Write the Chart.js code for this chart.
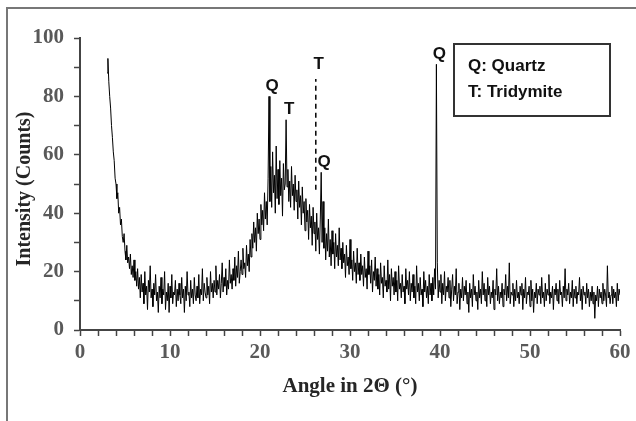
<!DOCTYPE html>
<html>
<head>
<meta charset="utf-8">
<script src="https://cdn.jsdelivr.net/npm/chart.js@4.4.0/dist/chart.umd.min.js"></script>
<style>
html, body { margin: 0; padding: 0; background: #fff; }
#wrap { width: 636px; height: 421px; }
</style>
</head>
<body>
<div id="wrap"><canvas id="xrdChart"></canvas></div>
<script>
// XRD scan: 3.0° to 60.0° in 0.1° steps, one row = 2°
var angleStart = 3.0;
var angleStep = 0.1;
var intensity = [
  88, 93, 85, 80, 76, 70, 66, 61, 58, 52, 50, 45, 47, 40, 42, 36, 38, 32, 30, 33,
  27, 24, 29, 23, 25, 21, 26, 19, 22, 18, 24, 17, 20, 15, 21, 14, 18, 11, 19, 13,
  16, 9, 20, 12, 15, 7, 17, 13, 22, 11, 14, 8, 16, 12, 19, 10, 13, 6, 15, 11,
  18, 9, 14, 12, 20, 7, 13, 10, 16, 6, 15, 11, 19, 9, 13, 12, 17, 8, 14, 10,
  16, 12, 9, 18, 11, 14, 6, 15, 10, 20, 12, 13, 8, 17, 11, 14, 9, 18, 12, 10,
  15, 11, 19, 9, 14, 12, 21, 10, 16, 13, 11, 18, 12, 15, 9, 20, 13, 16, 11, 17,
  13, 22, 12, 17, 14, 19, 11, 16, 23, 13, 18, 15, 21, 12, 17, 14, 24, 16, 19, 14,
  21, 17, 25, 15, 22, 18, 27, 16, 20, 24, 19, 28, 21, 23, 18, 29, 22, 26, 20, 31,
  25, 33, 28, 37, 30, 35, 27, 40, 33, 38, 31, 43, 36, 41, 34, 47, 38, 44, 36, 52,
  80, 44, 56, 42, 61, 47, 53, 40, 63, 45, 55, 43, 58, 46, 52, 39, 57, 48, 50, 72,
  49, 55, 44, 51, 42, 56, 46, 50, 41, 53, 44, 48, 38, 51, 42, 46, 36, 49, 40, 44,
  34, 45, 37, 41, 31, 43, 35, 39, 29, 42, 33, 37, 27, 40, 31, 35, 26, 38, 54, 30,
  44, 28, 35, 24, 33, 27, 38, 25, 31, 22, 34, 26, 30, 21, 33, 25, 29, 22, 35, 24,
  28, 21, 30, 23, 26, 18, 29, 22, 25, 19, 31, 21, 24, 17, 27, 20, 23, 16, 28, 19,
  23, 17, 26, 19, 22, 15, 25, 18, 21, 14, 27, 19, 22, 16, 24, 13, 20, 17, 25, 15,
  21, 14, 19, 12, 23, 16, 18, 11, 22, 15, 17, 13, 24, 14, 19, 10, 21, 15, 18, 12,
  20, 13, 17, 10, 22, 14, 16, 11, 19, 13, 15, 9, 21, 14, 17, 12, 20, 10, 16, 13,
  19, 11, 15, 9, 22, 13, 16, 10, 18, 12, 14, 8, 20, 13, 17, 11, 15, 9, 19, 12,
  16, 10, 18, 12, 21, 14, 91, 23, 11, 17, 13, 19, 9, 16, 12, 20, 10, 15, 13, 18,
  11, 17, 8, 14, 19, 10, 15, 12, 21, 9, 13, 16, 7, 14, 11, 18, 10, 15, 12, 17,
  9, 13, 6, 16, 11, 14, 8, 19, 12, 15, 10, 13, 7, 17, 11, 14, 9, 20, 12, 16,
  10, 14, 8, 18, 12, 15, 9, 13, 11, 17, 7, 14, 12, 21, 10, 15, 9, 13, 11, 16,
  8, 14, 12, 19, 10, 15, 11, 23, 9, 13, 12, 16, 8, 14, 10, 17, 11, 13, 9, 15,
  12, 16, 7, 14, 11, 18, 9, 13, 12, 15, 8, 17, 10, 14, 6, 13, 11, 16, 9, 14,
  12, 15, 9, 18, 11, 13, 8, 16, 10, 14, 12, 19, 9, 13, 11, 15, 7, 14, 12, 16,
  10, 14, 9, 17, 12, 13, 8, 15, 11, 21, 10, 14, 12, 16, 9, 13, 11, 17, 8, 14,
  11, 15, 9, 13, 12, 18, 10, 14, 7, 15, 12, 13, 9, 16, 11, 14, 8, 13, 10, 15,
  9, 13, 4, 12, 10, 15, 8, 14, 11, 13, 9, 16, 10, 14, 12, 8, 22, 11, 13, 9,
  12, 15, 9, 14, 11, 13, 8, 16, 10, 14, 12
];

// peak markers
var peakAngles = [21.0, 22.9, 26.2, 26.8, 39.6];
var peakTops = [80, 72, 86, 54, 91];
var peakNames = ['Q', 'T', 'T', 'Q', 'Q'];
var dashedPeak = [{ x: 26.2, y: 48 }, { x: 26.2, y: 86 }];

var legendLines = ['Q: Quartz', 'T: Tridymite'];

var scanData = intensity.map(function (v, i) {
  return { x: +(angleStart + i * angleStep).toFixed(1), y: v };
});

var tickFont = { family: '"Liberation Serif", "Times New Roman", serif', size: 21, weight: 'bold' };

var decorPlugin = {
  id: 'decor',
  afterDraw: function (chart) {
    var c = chart.ctx;
    var xs = chart.scales.x, ys = chart.scales.y;
    c.save();
    // outer frame (only top and left visible)
    c.strokeStyle = '#777';
    c.lineWidth = 2;
    c.beginPath();
    c.moveTo(7, 421);
    c.lineTo(7, 8);
    c.lineTo(636, 8);
    c.stroke();

    // axis titles
    c.fillStyle = '#262626';
    c.font = 'bold 21px "Liberation Serif", serif';
    c.textAlign = 'center';
    c.textBaseline = 'middle';
    c.fillText('Angle in 2\u0398 (\u00b0)', (chart.chartArea.left + chart.chartArea.right) / 2, 387);
    c.save();
    c.translate(25, 189);
    c.rotate(-Math.PI / 2);
    c.font = 'bold 20px "Liberation Serif", serif';
    c.fillText('Intensity (Counts)', 0, 0);
    c.restore();

    // peak labels
    c.fillStyle = '#111';
    c.font = 'bold 17px "Liberation Sans", Arial, sans-serif';
    peakAngles.forEach(function (a, i) {
      var px = xs.getPixelForValue(a);
      var py = ys.getPixelForValue(peakTops[i]);
      var dy = i === 2 ? 15 : 10;
      c.fillText(peakNames[i], px + 3, py - dy);
    });

    // legend box
    c.strokeStyle = '#333';
    c.lineWidth = 2;
    c.strokeRect(454, 44, 156, 72);
    c.textAlign = 'left';
    c.fillStyle = '#111';
    legendLines.forEach(function (t, i) {
      c.fillText(t, 468, 66 + i * 26);
    });
    c.restore();
  }
};

var ctx = document.getElementById('xrdChart').getContext('2d');

var myChart = new Chart(ctx, {
  type: 'line',
  data: {
    datasets: [{
      data: scanData,
      borderColor: '#000000',
      borderWidth: 1,
      pointRadius: 0,
      tension: 0
    }, {
      data: dashedPeak,
      borderColor: '#000000',
      borderWidth: 1.5,
      borderDash: [5, 4],
      pointRadius: 0
    }]
  },
  options: {
    responsive: true,
    maintainAspectRatio: false,
    animation: false,
    devicePixelRatio: 1,
    layout: {
      padding: { top: 38, right: 16, left: 0, bottom: 0 }
    },
    plugins: {
      legend: { display: false },
      tooltip: { enabled: false }
    },
    scales: {
      x: {
        type: 'linear',
        min: 0,
        max: 60,
        afterFit: function (scale) { scale.height = 91; },
        ticks: {
          stepSize: 2,
          autoSkip: false,
          maxRotation: 0,
          font: tickFont,
          color: '#595959',
          padding: 4,
          callback: function (v) { return v % 10 === 0 ? v : ''; }
        },
        grid: {
          drawOnChartArea: false,
          tickLength: 6,
          tickColor: '#444',
          tickWidth: 1.5
        },
        border: { color: '#444', width: 2 }
      },
      y: {
        min: 0,
        max: 100,
        afterFit: function (scale) { scale.width = 80; },
        ticks: {
          stepSize: 10,
          autoSkip: false,
          font: tickFont,
          color: '#595959',
          padding: 10,
          callback: function (v) { return v % 20 === 0 ? v : ''; }
        },
        grid: {
          drawOnChartArea: false,
          tickLength: 6,
          tickColor: '#444',
          tickWidth: 1.5
        },
        border: { color: '#444', width: 2 }
      }
    }
  },
  plugins: [decorPlugin]
});
</script>
</body>
</html>
